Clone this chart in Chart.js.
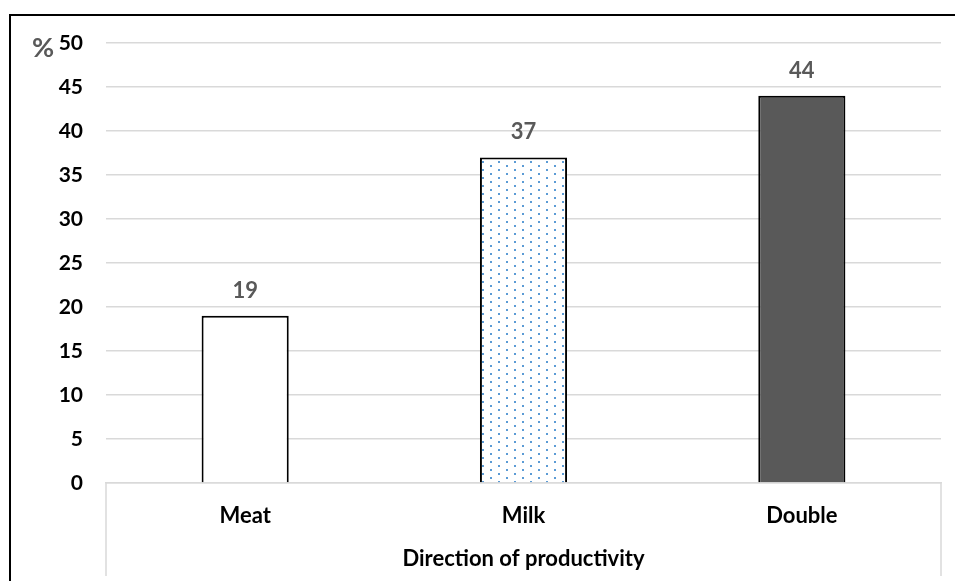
<!DOCTYPE html>
<html>
<head>
<meta charset="utf-8">
<script src="https://cdn.jsdelivr.net/npm/chart.js@4/dist/chart.umd.min.js"></script>
<style>
  html, body { margin: 0; padding: 0; background: #fff; }
  #wrap { width: 955px; height: 581px; position: relative; }
</style>
</head>
<body>
<div id="wrap"><canvas id="myChart" width="955" height="581"></canvas></div>
<script>
// chart values
const categories = ['Meat', 'Milk', 'Double'];
const shares = [19, 37, 44];
const yTickValues = [0, 5, 10, 15, 20, 25, 30, 35, 40, 45, 50];
const yUnit = '%';
const xTitle = 'Direction of productivity';

const FONT = 'Lato, "Open Sans", sans-serif';

// dotted fill for the Milk bar
function dotPattern() {
    const c = document.createElement('canvas');
    c.width = 16;
    c.height = 8;
    const g = c.getContext('2d');
    g.fillStyle = '#ffffff';
    g.fillRect(0, 0, 16, 8);
    g.fillStyle = '#5b9bd5';
    g.fillRect(2, 1, 2, 2);
    g.fillRect(10, 5, 2, 2);
    return g.createPattern(c, 'repeat');
}

const ctx = document.getElementById('myChart').getContext('2d');

// outer frame, white background
const framePlugin = {
    id: 'frame',
    beforeDraw(chart) {
        const c = chart.ctx;
        c.save();
        c.fillStyle = '#fff';
        c.fillRect(0, 0, chart.width, chart.height);
        c.strokeStyle = '#000';
        c.lineWidth = 2;
        c.beginPath();
        c.moveTo(10, chart.height);
        c.lineTo(10, 15);
        c.lineTo(chart.width, 15);
        c.stroke();
        c.restore();
    }
};

// box around the category axis + unit label + value labels
const extrasPlugin = {
    id: 'extras',
    afterDraw(chart) {
        const c = chart.ctx;
        const area = chart.chartArea;
        const y = chart.scales.y;
        c.save();
        c.strokeStyle = '#d9d9d9';
        c.lineWidth = 1.5;
        c.beginPath();
        c.moveTo(area.left, area.bottom);
        c.lineTo(area.left, 576);
        c.moveTo(area.right, area.bottom);
        c.lineTo(area.right, 576);
        c.stroke();

        c.fillStyle = '#595959';
        c.font = 'bold 27px ' + FONT;
        c.textAlign = 'center';
        c.textBaseline = 'middle';
        c.fillText(yUnit, 43, y.getPixelForValue(50) + 5);

        c.font = 'bold 22px ' + FONT;
        const meta = chart.getDatasetMeta(0);
        meta.data.forEach((bar, i) => {
            c.fillText(String(shares[i]), bar.x, bar.y - 25);
        });
        c.restore();
    }
};

const myChart = new Chart(ctx, {
    type: 'bar',
    data: {
        labels: categories,
        datasets: [{
            data: shares,
            backgroundColor: ['#ffffff', dotPattern(), '#595959'],
            borderColor: '#000000',
            borderWidth: 2,
            barPercentage: 0.313,
            categoryPercentage: 1
        }]
    },
    options: {
        responsive: false,
        animation: false,
        layout: { padding: { left: 10, right: 14, top: 43, bottom: 0 } },
        plugins: {
            legend: { display: false },
            tooltip: { enabled: false }
        },
        scales: {
            x: {
                grid: { display: false, drawTicks: false },
                border: { display: true, color: '#d9d9d9', width: 1.5 },
                ticks: {
                    color: '#000',
                    padding: 20,
                    font: { family: FONT, size: 22, weight: 'bold' }
                },
                title: {
                    display: true,
                    text: xTitle,
                    color: '#000',
                    padding: { top: 0, bottom: 9 },
                    font: { family: FONT, size: 22, weight: 'bold' }
                },
                afterFit(scale) { scale.height = 98; }
            },
            y: {
                min: 0,
                max: 50,
                afterBuildTicks(scale) {
                    scale.ticks = yTickValues.map(v => ({ value: v }));
                },
                grid: { color: '#d9d9d9', lineWidth: 1.5, drawTicks: false },
                border: { display: false },
                ticks: {
                    color: '#000',
                    padding: 23,
                    font: { family: FONT, size: 21, weight: 'bold' }
                },
                afterFit(scale) { scale.width = 96; }
            }
        }
    },
    plugins: [framePlugin, extrasPlugin]
});
</script>
</body>
</html>
